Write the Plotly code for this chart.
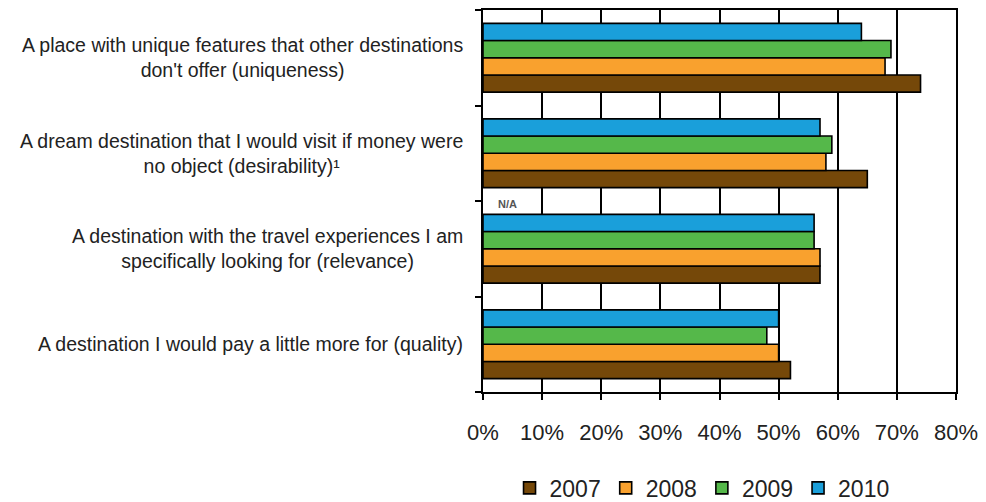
import plotly.graph_objects as go

# Statements, listed top to bottom as they appear on the chart
categories = [
    "A place with unique features that other destinations<br>don't offer (uniqueness)",
    "A dream destination that I would visit if money were<br>no object (desirability)\u00b9",
    "A destination with the travel experiences I am<br>specifically looking for (relevance)",
    "A destination I would pay a little more for (quality)",
]
keys = ["uniqueness", "desirability", "relevance", "quality"]

years = ["2007", "2008", "2009", "2010"]
values_2007 = [74, 65, 57, 52]
values_2008 = [68, 58, 57, 50]
values_2009 = [69, 59, 56, 48]
values_2010 = [64, 57, 56, 50]
series = [values_2007, values_2008, values_2009, values_2010]
colors = ["#754809", "#F9A12E", "#55B84A", "#1A9FDA"]

x_ticks = [0, 10, 20, 30, 40, 50, 60, 70, 80]
x_tick_labels = ["0%", "10%", "20%", "30%", "40%", "50%", "60%", "70%", "80%"]

# axis runs bottom -> top, so reverse to keep uniqueness at the top
axis_order = keys[::-1]

FONT = "Liberation Sans, Arial, sans-serif"

fig = go.Figure()
for year, vals, col in zip(years, series, colors):
    fig.add_trace(go.Bar(
        y=keys, x=vals, name=year, orientation="h",
        marker=dict(color=col, line=dict(color="black", width=1.6)),
    ))

for key, label in zip(keys, categories):
    fig.add_annotation(
        x=0, xref="paper", xanchor="right", xshift=-18,
        y=key, yref="y", yanchor="middle",
        text=label, align="center", showarrow=False,
        font=dict(family=FONT, size=19.5, color="#222"),
    )

# "N/A" marker above the relevance group
fig.add_annotation(
    x=4.2, xref="x", y=axis_order.index("relevance") + 0.47, yref="y",
    text="<b>N/A</b>", showarrow=False,
    font=dict(family=FONT, size=11, color="#555"),
)

fig.update_layout(
    width=986, height=502,
    margin=dict(l=483, r=28, t=8, b=110),
    barmode="group", bargap=0.28, bargroupgap=0,
    plot_bgcolor="white", paper_bgcolor="white",
    font=dict(family=FONT, color="#222"),
    xaxis=dict(
        range=[0, 80], tickmode="array", tickvals=x_ticks, ticktext=x_tick_labels,
        showgrid=True, gridcolor="black", gridwidth=1.5,
        showline=True, linecolor="black", linewidth=1.5, mirror=True,
        ticks="outside", ticklen=6, tickcolor="black", tickwidth=1.5,
        ticklabelstandoff=14,
        tickfont=dict(size=22, color="#222"), zeroline=False,
    ),
    yaxis=dict(
        type="category", categoryorder="array", categoryarray=axis_order,
        showticklabels=False, tickson="boundaries",
        ticks="outside", ticklen=6, tickcolor="black", tickwidth=1.5,
        showline=True, linecolor="black", linewidth=1.5, mirror=True,
        showgrid=False,
    ),
    legend=dict(
        orientation="h", x=0.712, xanchor="center", xref="container",
        y=0.028, yanchor="middle", yref="container",
        font=dict(size=23, color="#222"), itemwidth=30,
    ),
    showlegend=True,
)

fig.write_html("out.html")
